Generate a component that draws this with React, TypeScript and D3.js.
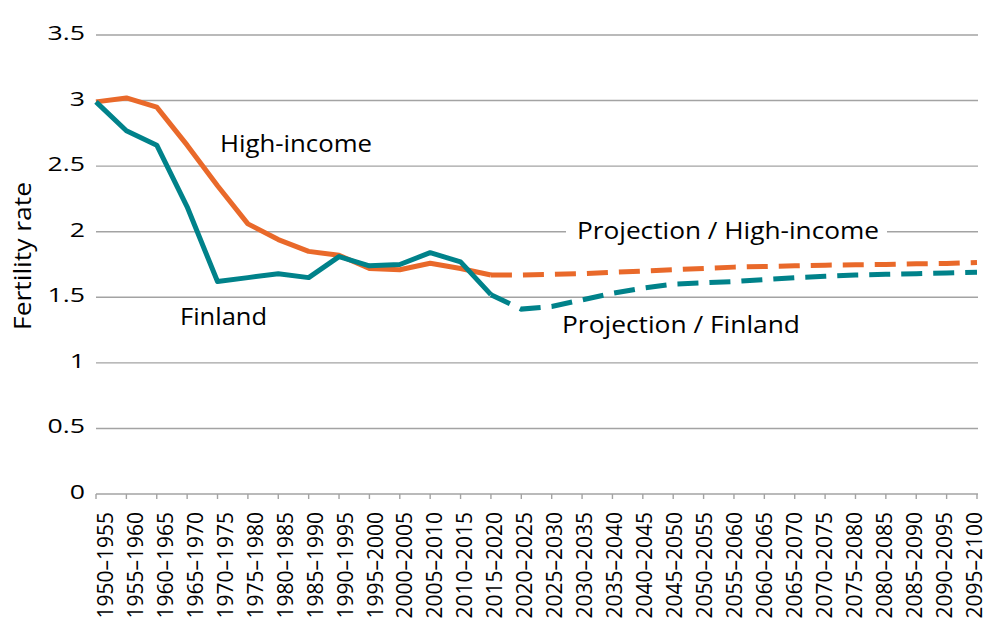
import React from "react";
import * as d3 from "d3";

const categories: string[] = [
  "1950–1955", "1955–1960", "1960–1965", "1965–1970", "1970–1975", "1975–1980",
  "1980–1985", "1985–1990", "1990–1995", "1995–2000", "2000–2005", "2005–2010",
  "2010–2015", "2015–2020", "2020–2025", "2025–2030", "2030–2035", "2035–2040",
  "2040–2045", "2045–2050", "2050–2055", "2055–2060", "2060–2065", "2065–2070",
  "2070–2075", "2075–2080", "2080–2085", "2085–2090", "2090–2095", "2095–2100",
];

// Estimates (1950–1955 … 2015–2020)
const finland: number[] = [2.99, 2.77, 2.66, 2.19, 1.62, 1.65, 1.68, 1.65, 1.81, 1.74, 1.75, 1.84, 1.77, 1.52];
const highIncome: number[] = [2.99, 3.02, 2.95, 2.66, 2.35, 2.06, 1.94, 1.85, 1.82, 1.72, 1.71, 1.76, 1.72, 1.67];

// Projections (2020–2025 … 2095–2100)
const finlandProjection: number[] = [1.41, 1.43, 1.48, 1.53, 1.57, 1.6, 1.61, 1.62, 1.635, 1.65, 1.66, 1.67, 1.675, 1.68, 1.685, 1.69];
const highIncomeProjection: number[] = [1.67, 1.675, 1.68, 1.69, 1.7, 1.71, 1.72, 1.73, 1.735, 1.74, 1.745, 1.748, 1.75, 1.755, 1.758, 1.765];

const yTicks: number[] = [0, 0.5, 1, 1.5, 2, 2.5, 3, 3.5];
const yTickLabels: string[] = ["0", "0.5", "1", "1.5", "2", "2.5", "3", "3.5"];

const yTitle = "Fertility rate";
const labelHigh = "High-income";
const labelFin = "Finland";
const labelProjHigh = "Projection / High-income";
const labelProjFin = "Projection / Finland";

const W = 984;
const H = 621;
const ORANGE = "#E9692A";
const TEAL = "#00828A";
const GRID = "#a3a3a3";
const FONT = "'Open Sans', sans-serif";

export default function App() {
  const x = d3.scalePoint<string>().domain(categories).range([96, 977]);
  const xLab = d3.scalePoint<string>().domain(categories).range([105.5, 974]);
  const y = d3.scaleLinear().domain([0, 3.5]).range([494, 35]);

  type P = { c: string; v: number };
  const hist = (arr: number[]): P[] => arr.map((v, i) => ({ c: categories[i], v }));
  const proj = (last: number, arr: number[]): P[] => {
    const start = finland.length - 1;
    return [{ c: categories[start], v: last }, ...arr.map((v, i) => ({ c: categories[start + 1 + i], v }))];
  };

  const line = d3
    .line<P>()
    .x((d) => x(d.c) as number)
    .y((d) => y(d.v));

  const finHist = hist(finland);
  const hiHist = hist(highIncome);
  const finProj = proj(finland[finland.length - 1], finlandProjection);
  const hiProj = proj(highIncome[highIncome.length - 1], highIncomeProjection);

  const xr = x.range();

  return (
    <svg width={W} height={H} style={{ position: "absolute", left: 0, top: 0, background: "#fff" }} fontFamily={FONT}>
      <rect x={0} y={0} width={W} height={H} fill="#fff" />
      {/* gridlines */}
      {yTicks.map((t) => (
        <line key={t} x1={xr[0]} x2={978} y1={y(t)} y2={y(t)} stroke={GRID} strokeWidth={1.4} />
      ))}
      {/* x ticks */}
      {categories.map((c) => (
        <line key={c} x1={x(c)} x2={x(c)} y1={y(0)} y2={y(0) + 5} stroke={GRID} strokeWidth={1.4} />
      ))}
      {/* y tick labels */}
      {yTicks.map((t, i) => (
        <g key={t} transform={`translate(85,${y(t) + 5}) scale(1.3,1)`}>
          <text textAnchor="end" fontSize={20.5} fill="#000">
            {yTickLabels[i]}
          </text>
        </g>
      ))}
      {/* x labels */}
      {categories.map((c) => (
        <text
          key={c}
          transform={`translate(${(xLab(c) as number) + 7.5},512) rotate(-90)`}
          textAnchor="end"
          fontSize={21}
          fill="#000"
        >
          {c}
        </text>
      ))}
      {/* y title */}
      <text
        transform={`translate(31,256) rotate(-90)`}
        textAnchor="middle"
        fontSize={24}
        fill="#000"
        textLength={148}
        lengthAdjust="spacingAndGlyphs"
      >
        {yTitle}
      </text>

      {/* label box over gridline */}
      <rect x={566} y={218} width={321} height={28} fill="#fff" />

      {/* lines */}
      <path d={line(hiProj) || ""} fill="none" stroke={ORANGE} strokeWidth={5} strokeDasharray="21 11" />
      <path d={line(finProj) || ""} fill="none" stroke={TEAL} strokeWidth={5} strokeDasharray="21 11" />
      <path d={line(hiHist) || ""} fill="none" stroke={ORANGE} strokeWidth={5} strokeLinejoin="round" />
      <path d={line(finHist) || ""} fill="none" stroke={TEAL} strokeWidth={5} strokeLinejoin="round" />

      {/* annotations */}
      <text x={220} y={152} fontSize={23} fill="#000" textLength={152} lengthAdjust="spacingAndGlyphs">
        {labelHigh}
      </text>
      <text x={180} y={325} fontSize={23} fill="#000" textLength={87} lengthAdjust="spacingAndGlyphs">
        {labelFin}
      </text>
      <text x={577} y={239} fontSize={23} fill="#000" textLength={302} lengthAdjust="spacingAndGlyphs">
        {labelProjHigh}
      </text>
      <text x={562} y={333} fontSize={23} fill="#000" textLength={238} lengthAdjust="spacingAndGlyphs">
        {labelProjFin}
      </text>
    </svg>
  );
}
